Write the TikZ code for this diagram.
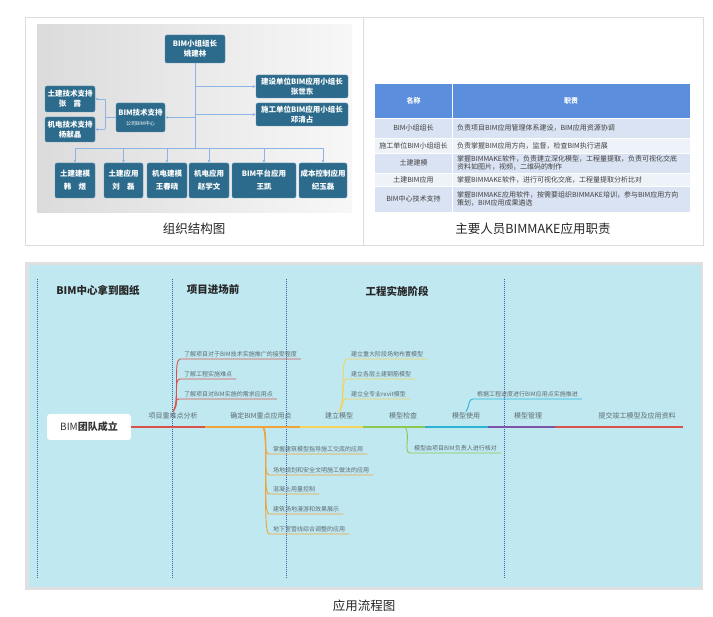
\documentclass[tikz,border=0pt]{standalone}
\usepackage{fontspec}
\setmainfont{Noto Sans CJK SC}
\usepackage{xcolor}
\usetikzlibrary{arrows.meta}
\usetikzlibrary{positioning}

\definecolor{orgfill}{HTML}{2D6B8C}
\definecolor{orgedge}{HTML}{5A8FB0}
\definecolor{orgline}{HTML}{8EB4E3}
\definecolor{tabhead}{HTML}{5B8FDD}
\definecolor{tabrowa}{HTML}{DAE3F3}
\definecolor{tabrowb}{HTML}{EEF2F9}
\definecolor{framegray}{HTML}{DDDDDD}
\definecolor{flowbg}{HTML}{BFE8F1}
\definecolor{dotblue}{HTML}{3C62A8}
\definecolor{brred}{HTML}{D9534A}
\definecolor{brorange}{HTML}{F0A23B}
\definecolor{bryellow}{HTML}{F3D45A}
\definecolor{brgreen}{HTML}{8CC751}
\definecolor{brcyan}{HTML}{2BB3D6}
\definecolor{brpurple}{HTML}{7D55A8}
\definecolor{labelgray}{HTML}{5F6B70}

\begin{document}
\begin{tikzpicture}[x=1pt, y=-1pt,
  orgbox/.style={draw=orgedge, fill=orgfill, rounded corners=2pt, text=white,
    font=\fontsize{7.5}{10}\selectfont\bfseries, align=center, inner sep=1pt},
  orgarrow/.style={draw=orgline, line width=0.8pt, -{Latex[length=3pt,width=3pt]}},
  orgwire/.style={draw=orgline, line width=0.8pt},
  cell/.style={font=\fontsize{7}{8.5}\selectfont, text=black!75, inner sep=0pt, align=left},
  headcell/.style={font=\fontsize{7}{9}\selectfont\bfseries, text=white, inner sep=0pt},
  caption/.style={font=\fontsize{12.5}{14}\selectfont, text=black!85},
  phase/.style={font=\fontsize{10.5}{12}\selectfont\bfseries, text=black!85},
  topic/.style={font=\fontsize{7}{8}\selectfont, text=labelgray, inner sep=1pt},
  leaf/.style={font=\fontsize{6}{7}\selectfont, text=labelgray, inner xsep=4pt, inner ysep=1.5pt, anchor=south west},
  stage/.style={dotblue, densely dotted, line width=1pt},
  twig/.style={line width=0.9pt},
  trunk/.style={line width=1.3pt}]

  \useasboundingbox (0,0) rectangle (713,617);
  \fill[white] (0,0) rectangle (713,617);

  \draw[framegray] (25,17) rectangle (703,245);
  \draw[framegray] (363,17) -- (363,245);

  \shade[left color=black!14, right color=black!3] (37,25) rectangle (352,213);

  \node[orgbox, minimum width=60pt, minimum height=28pt] (lead) at (195,49) {BIM小组组长\\姚建林};
  \node[orgbox, minimum width=92pt, minimum height=23pt] (owner) at (302,86.5) {建设单位BIM应用小组长\\张世东};
  \node[orgbox, minimum width=92pt, minimum height=23pt] (builder) at (302,114.5) {施工单位BIM应用小组长\\邓清占};
  \node[orgbox, minimum width=49pt, minimum height=29pt] (tech) at (140.5,117.5) {BIM技术支持\\{\fontsize{5}{6}\selectfont\mdseries 公司BIM中心}};
  \node[orgbox, minimum width=50pt, minimum height=26pt] (civsup) at (70,99) {土建技术支持\\张\quad 露};
  \node[orgbox, minimum width=50pt, minimum height=25pt] (mepsup) at (70,129.5) {机电技术支持\\杨献晶};

  \node[orgbox, minimum width=40pt, minimum height=35pt] (b1) at (75,180.5) {土建建模\\[3pt]韩\quad 煜};
  \node[orgbox, minimum width=39pt, minimum height=35pt] (b2) at (123.5,180.5) {土建应用\\[3pt]刘\quad 磊};
  \node[orgbox, minimum width=40pt, minimum height=35pt] (b3) at (167,180.5) {机电建模\\[3pt]王春晓};
  \node[orgbox, minimum width=40pt, minimum height=35pt] (b4) at (209,180.5) {机电应用\\[3pt]赵学文};
  \node[orgbox, minimum width=64pt, minimum height=35pt] (b5) at (264,180.5) {BIM平台应用\\[3pt]王凯};
  \node[orgbox, minimum width=48pt, minimum height=35pt] (b6) at (323,180.5) {成本控制应用\\[3pt]纪玉磊};

  \coordinate (bus) at (195,148);
  \coordinate (fork) at (105,117.5);
  \draw[orgwire] (lead.south) -- (bus);
  \draw[orgarrow] (lead.south |- owner.west) -- (owner.west);
  \draw[orgarrow] (lead.south |- builder.west) -- (builder.west);
  \draw[orgarrow] (lead.south |- tech.east) -- (tech.east);
  \draw[orgwire] (tech.west) -- (fork);
  \draw[orgwire] (fork |- civsup.east) -- (fork |- mepsup.east);
  \draw[orgarrow] (fork |- civsup.east) -- (civsup.east);
  \draw[orgarrow] (fork |- mepsup.east) -- (mepsup.east);
  \draw[orgwire] (b1.north |- bus) -- (b6.north |- bus);
  \foreach \b in {b1,b2,b3,b4,b5,b6}
    \draw[orgarrow] (\b.north |- bus) -- (\b.north);

  \node[caption] (cap1) at (194,229) {组织结构图};

  \fill[tabhead] (375,84) rectangle (690,118);
  \foreach \ya/\yb/\c in {118/138/tabrowa, 138/153/tabrowb, 153/173/tabrowa, 173/186/tabrowb, 186/212/tabrowa}
    \fill[\c] (375,\ya) rectangle (690,\yb);
  \foreach \y in {118,138,153,173,186}
    \draw[white, line width=0.8pt] (375,\y) -- (690,\y);
  \draw[white, line width=0.8pt] (452,84) -- (452,212);

  \node[headcell] (h1) at (413.5,101) {名称};
  \node[headcell] (h2) at (571,101) {职责};
  \node[cell] (n1) at (413.5,128) {BIM小组组长};
  \node[cell] (n2) at (413.5,145.5) {施工单位BIM小组组长};
  \node[cell] (n3) at (413.5,163) {土建建模};
  \node[cell] (n4) at (413.5,179.5) {土建BIM应用};
  \node[cell] (n5) at (413.5,199) {BIM中心技术支持};
  \node[cell, anchor=west] (d1) at (457,128) {负责项目BIM应用管理体系建设，BIM应用资源协调};
  \node[cell, anchor=west] (d2) at (457,145.5) {负责掌握BIM应用方向，监督，检查BIM执行进展};
  \node[cell, anchor=west] (d3) at (457,163) {掌握BIMMAKE软件，负责建立深化模型，工程量提取，负责可视化交底\\资料如图片，视频，二维码的制作};
  \node[cell, anchor=west] (d4) at (457,179.5) {掌握BIMMAKE软件，进行可视化交底，工程量提取分析比对};
  \node[cell, anchor=west] (d5) at (457,199) {掌握BIMMAKE应用软件，按需要组织BIMMAKE培训，参与BIM应用方向\\策划，BIM应用成果遴选};

  \node[caption] (cap2) at (533,229) {主要人员BIMMAKE应用职责};

  \fill[black!12] (25,262) rectangle (703,590);
  \fill[flowbg] (29,265) rectangle (701,587);
  \foreach \x in {37,172,286,504}
    \draw[stage] (\x,279) -- (\x,578);

  \node[phase] (p1) at (98,290) {BIM中心拿到图纸};
  \node[phase] (p2) at (213,290) {项目进场前};
  \node[phase] (p3) at (397,291) {工程实施阶段};

  \node[fill=white, rounded corners=3pt, minimum width=84pt, minimum height=26pt,
    font=\fontsize{10}{12}\selectfont, text=black!80] (team) at (89,427) {BIM\textbf{团队成立}};

  \node[topic] (t1) at (173,416) {项目重难点分析};
  \node[topic] (t2) at (261,416) {确定BIM重点应用点};
  \node[topic] (t3) at (339,416) {建立模型};
  \node[topic] (t4) at (403,416) {模型检查};
  \node[topic] (t5) at (466,416) {模型使用};
  \node[topic] (t6) at (528,416) {模型管理};
  \node[topic] (t7) at (637,416) {提交竣工模型及应用资料};

  \coordinate (m1) at (205,427);
  \coordinate (m2) at (300,427);
  \coordinate (m3) at (363,427);
  \coordinate (m4) at (425,427);
  \coordinate (m5) at (488,427);
  \coordinate (m6) at (555,427);
  \coordinate (m7) at (683,427);
  \foreach \a/\b/\c in {team.east/m1/brred, m1/m2/brorange, m2/m3/bryellow, m3/m4/brgreen, m4/m5/brcyan, m5/m6/brpurple, m6/m7/brred}
    \draw[trunk, \c] (\a) -- (\b);

  \node[leaf] (r1) at (180,359) {了解项目对于BIM技术实施推广的接受程度};
  \node[leaf] (r2) at (180,379) {了解工程实施难点};
  \node[leaf] (r3) at (180,399) {了解项目对BIM实施的需求应用点};
  \foreach \n in {r1,r2,r3}
    \draw[twig, brred] (t1.north) .. controls +(7,-9) and +(-7,0) .. (\n.south west) -- (\n.south east);

  \coordinate (o0) at (263,427);
  \node[leaf] (o1) at (269,454) {掌握建筑模型指导施工交底的应用};
  \node[leaf] (o2) at (269,475) {场地规划和安全文明施工做法的应用};
  \node[leaf] (o3) at (269,494) {混凝土用量控制};
  \node[leaf] (o4) at (269,514) {建筑场地漫游和效果展示};
  \node[leaf] (o5) at (269,534) {地下室管线综合调整的应用};
  \foreach \n in {o1,o2,o3,o4,o5}
    \draw[twig, brorange] (o0) .. controls +(6,7) and +(-7,0) .. (\n.south west) -- (\n.south east);

  \node[leaf] (y1) at (347,359) {建立重大阶段场地布置模型};
  \node[leaf] (y2) at (347,379) {建立各层土建钢筋模型};
  \node[leaf] (y3) at (347,399) {建立全专业revit模型};
  \foreach \n in {y1,y2,y3}
    \draw[twig, bryellow] (t3.north) .. controls +(7,-9) and +(-7,0) .. (\n.south west) -- (\n.south east);

  \coordinate (g0) at (405,427);
  \node[leaf] (g1) at (410,453) {模型由项目BIM负责人进行核对};
  \draw[twig, brgreen] (g0) .. controls +(6,7) and +(-7,0) .. (g1.south west) -- (g1.south east);

  \node[leaf] (c1) at (473,399) {根据工程进度进行BIM应用点实施推进};
  \draw[twig, brcyan] (t5.north) .. controls +(4,-6) and +(-5,0) .. (c1.south west) -- (c1.south east);

  \node[caption] (cap3) at (364,606) {应用流程图};
\end{tikzpicture}
\end{document}
